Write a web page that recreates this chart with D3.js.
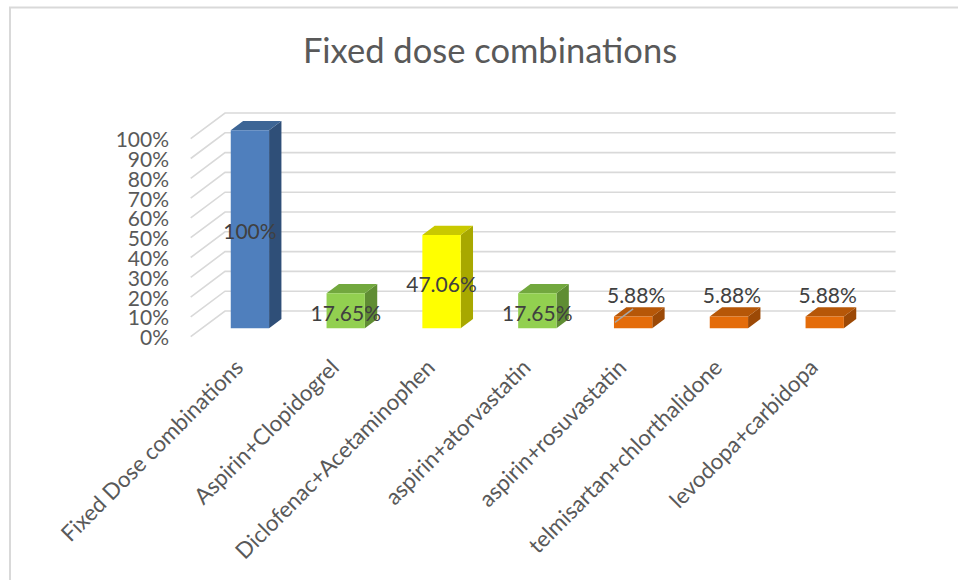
<!DOCTYPE html>
<html>
<head>
<meta charset="utf-8">
<script src="https://cdn.jsdelivr.net/npm/d3@7"></script>
<style>
  html, body { margin: 0; padding: 0; background: #fff; }
  svg { display: block; font-family: Lato, "Open Sans", sans-serif; }
</style>
</head>
<body>
<svg id="chart" width="958" height="580"></svg>
<script>
// ---- data ----
const categories = [
  "Fixed Dose combinations",
  "Aspirin+Clopidogrel",
  "Diclofenac+Acetaminophen",
  "aspirin+atorvastatin",
  "aspirin+rosuvastatin",
  "telmisartan+chlorthalidone",
  "levodopa+carbidopa"
];
const values = [100, 17.65, 47.06, 17.65, 5.88, 5.88, 5.88];
const valueLabels = ["100%", "17.65%", "47.06%", "17.65%", "5.88%", "5.88%", "5.88%"];
const colorGroups = ["blue", "green", "yellow", "green", "orange", "orange", "orange"];
const tickValues = [0, 10, 20, 30, 40, 50, 60, 70, 80, 90, 100];
const tickLabels = ["0%", "10%", "20%", "30%", "40%", "50%", "60%", "70%", "80%", "90%", "100%"];
const titleText = "Fixed dose combinations";

// ---- styling ----
const palette = {
  blue:   { front: "#4f7fbd", top: "#3d6595", side: "#2f4f78" },
  green:  { front: "#92d050", top: "#72a83e", side: "#5f8d33" },
  yellow: { front: "#ffff00", top: "#c9c900", side: "#a8a800" },
  orange: { front: "#e46c0a", top: "#b65708", side: "#9c4906" }
};
const gridColor = "#d9d9d9";
const axisText = "#595959";
const labelText = "#404040";
const labelSize = 21;
const catSize = 22.3;
const titleSize = 34.5;

// ---- 3D oblique geometry ----
const floorLeft = 190.7, floorRight = 861.3;
const baseY = 336.7, plotH = 198;
const depth = [34.3, -25.7];       // screen offset from front to back wall
const barD0 = 0.33, barD1 = 0.69;  // bar front/back depth fraction
const leaderIndex = 4;             // label drawn with a leader line

const svg = d3.select("#chart");

const x = d3.scaleBand()
  .domain(categories)
  .range([floorLeft, floorRight])
  .paddingInner(0.6)
  .paddingOuter(0.3);
const y = d3.scaleLinear().domain([0, 100]).range([baseY, baseY - plotH]);

const proj = (px, v, d) => [px + d * depth[0], y(v) + d * depth[1]];

// chart area border (top and left edges visible)
svg.append("path")
  .attr("d", "M10,580V7.5H958")
  .attr("fill", "none")
  .attr("stroke", gridColor)
  .attr("stroke-width", 2);

// title
svg.append("text")
  .attr("x", 490)
  .attr("y", 62.5)
  .attr("text-anchor", "middle")
  .attr("fill", axisText)
  .attr("font-size", titleSize)
  .text(titleText);

// gridlines: side wall + back wall
const grid = svg.append("g")
  .attr("fill", "none")
  .attr("stroke", gridColor)
  .attr("stroke-width", 1.6);
grid.selectAll("path")
  .data(tickValues)
  .join("path")
  .attr("d", v => {
    const a = proj(floorLeft, v, 0), b = proj(floorLeft, v, 1), c = proj(floorRight, v, 1);
    return `M${a}L${b}L${c}`;
  });

// y-axis tick labels
svg.append("g")
  .selectAll("text")
  .data(tickValues)
  .join("text")
  .attr("x", 169)
  .attr("y", v => y(v) + 1 + labelSize * 0.36)
  .attr("text-anchor", "end")
  .attr("fill", axisText)
  .attr("font-size", labelSize)
  .text((v, i) => tickLabels[i]);

// bars
const bars = svg.append("g")
  .selectAll("g")
  .data(categories.map((c, i) => ({ c, i, v: values[i], col: palette[colorGroups[i]] })))
  .join("g");

const pts = arr => arr.map(p => p.join(",")).join(" ");

bars.append("polygon")
  .attr("fill", d => d.col.side)
  .attr("points", d => {
    const xr = x(d.c) + x.bandwidth();
    return pts([proj(xr, 0, barD0), proj(xr, d.v, barD0), proj(xr, d.v, barD1), proj(xr, 0, barD1)]);
  });
bars.append("polygon")
  .attr("fill", d => d.col.top)
  .attr("points", d => {
    const xl = x(d.c), xr = xl + x.bandwidth();
    return pts([proj(xl, d.v, barD0), proj(xr, d.v, barD0), proj(xr, d.v, barD1), proj(xl, d.v, barD1)]);
  });
bars.append("polygon")
  .attr("fill", d => d.col.front)
  .attr("points", d => {
    const xl = x(d.c), xr = xl + x.bandwidth();
    return pts([proj(xl, 0, barD0), proj(xr, 0, barD0), proj(xr, d.v, barD0), proj(xl, d.v, barD0)]);
  });

// data labels: centred on the bar face, or above it when the bar is too short
const capH = labelSize * 0.72;
const labelPos = d => {
  const [fx, fTop] = proj(x(d.c), d.v, barD0);
  const fBottom = proj(x(d.c), 0, barD0)[1];
  const cx = fx + x.bandwidth() / 2;
  const inside = fBottom - fTop > capH * 1.4;
  if (inside) return { x: cx, cy: (fTop + fBottom) / 2 + 2.5, inside };
  const backTop = proj(x(d.c), d.v, barD1)[1];
  return { x: cx + 3, cy: backTop - 12, inside };
};

bars.filter(d => d.i === leaderIndex)
  .append("line")
  .attr("stroke", "#a6a6a6")
  .attr("stroke-width", 1.5)
  .attr("x1", d => proj(x(d.c), 0, barD0)[0] + 1)
  .attr("y1", d => (proj(x(d.c), 0, barD0)[1] + proj(x(d.c), d.v, barD0)[1]) / 2)
  .attr("x2", d => proj(x(d.c), 0, barD0)[0] + x.bandwidth() / 2)
  .attr("y2", d => proj(x(d.c), d.v, barD1)[1] + 1.5);

bars.append("text")
  .attr("x", d => labelPos(d).x)
  .attr("y", d => labelPos(d).cy + capH / 2)
  .attr("text-anchor", "middle")
  .attr("fill", labelText)
  .attr("font-size", labelSize)
  .text(d => valueLabels[d.i]);

// category labels, rotated
svg.append("g")
  .selectAll("text")
  .data(categories)
  .join("text")
  .attr("text-anchor", "end")
  .attr("fill", axisText)
  .attr("font-size", catSize)
  .attr("transform", c => `translate(${x(c) + x.bandwidth() / 2 + 6},369) rotate(-45)`)
  .text(c => c);
</script>
</body>
</html>
